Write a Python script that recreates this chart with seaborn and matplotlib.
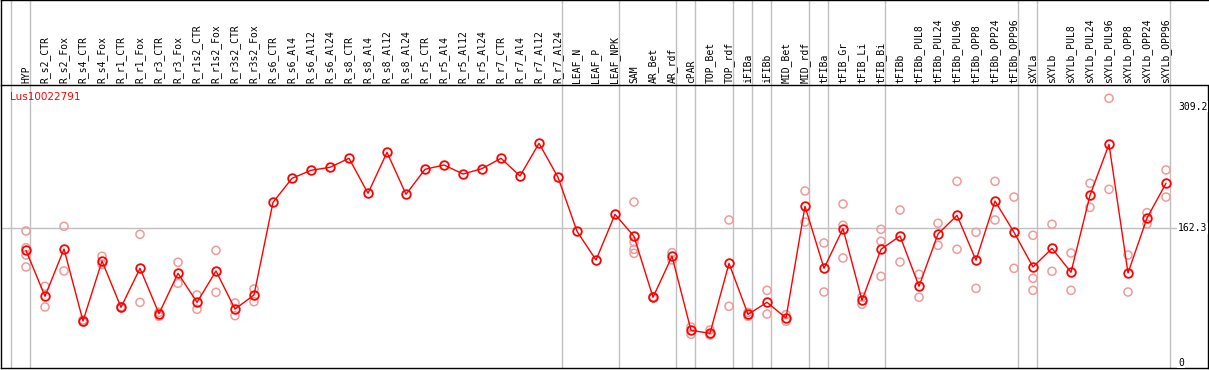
import numpy as np
import pandas as pd
import matplotlib
matplotlib.use("Agg")
import matplotlib.pyplot as plt
import seaborn as sns

# sample names across the top
labels = [
    "HYP",
    "R_s2_CTR", "R_s2_Fox", "R_s4_CTR", "R_s4_Fox", "R_r1_CTR", "R_r1_Fox",
    "R_r3_CTR", "R_r3_Fox", "R_r1s2_CTR", "R_r1s2_Fox", "R_r3s2_CTR", "R_r3s2_Fox",
    "R_s6_CTR", "R_s6_Al4", "R_s6_Al12", "R_s6_Al24",
    "R_s8_CTR", "R_s8_Al4", "R_s8_Al12", "R_s8_Al24",
    "R_r5_CTR", "R_r5_Al4", "R_r5_Al12", "R_r5_Al24",
    "R_r7_CTR", "R_r7_Al4", "R_r7_Al12", "R_r7_Al24",
    "LEAF_N", "LEAF_P", "LEAF_NPK",
    "SAM", "AR_Bet", "AR_rdf",
    "cPAR",
    "TOP_Bet", "TOP_rdf",
    "iFIBa",
    "iFIBb",
    "MID_Bet", "MID_rdf",
    "tFIBa",
    "tFIB_Gr", "tFIB_Li", "tFIB_Bi",
    "tFIBb", "tFIBb_PUL8", "tFIBb_PUL24", "tFIBb_PUL96", "tFIBb_OPP8", "tFIBb_OPP24", "tFIBb_OPP96",
    "sXYLa",
    "sXYLb", "sXYLb_PUL8", "sXYLb_PUL24", "sXYLb_PUL96", "sXYLb_OPP8", "sXYLb_OPP24", "sXYLb_OPP96",
]

# number of samples in each tissue group (gray separators between groups)
group_sizes = [1, 28, 3, 3, 1, 2, 1, 1, 2, 1, 3, 7, 1, 7]

# mean expression per sample
means = [
    135.5,
    80.1, 137.2, 50.3, 122.7, 66.8, 113.9, 59.1, 107.9, 72.8, 110.7, 64.7, 81.7,
    193.6, 222.6, 232.3, 235.9,
    246.8, 204.5, 254.0, 203.3,
    233.5, 238.7, 227.8, 234.3,
    246.8, 225.4, 264.9, 223.8,
    158.6, 123.9, 179.1,
    152.5, 78.9, 128.4,
    39.0,
    35.4, 119.9,
    58.3,
    72.8,
    53.9, 188.8,
    113.9,
    161.8, 75.3, 136.9,
    152.9, 92.2, 155.4, 177.9, 123.6, 195.2, 157.4,
    115.5,
    138.0, 109.1, 202.1, 263.7, 108.2, 174.7, 216.6,
]

# individual replicates per sample
replicates = [
    [159.0, 138.8, 130.0, 115.5],
    [92.2, 67.2], [164.6, 110.7], [51.5, 49.0], [128.4, 118.7], [67.5, 66.0], [155.0, 72.8],
    [60.8, 55.9], [121.2, 95.8], [81.7, 64.4], [135.6, 84.9], [72.0, 56.7], [88.9, 73.6],
    [], [], [], [],
    [], [], [], [],
    [], [], [], [],
    [], [], [], [],
    [], [], [],
    [194.0, 145.7, 136.9, 132.0], [79.5, 78.3], [132.8, 124.0],
    [43.0, 34.2],
    [39.4, 33.3], [172.3, 68.0],
    [60.8, 55.9],
    [87.3, 58.7],
    [57.9, 49.9], [207.3, 169.8],
    [144.5, 85.3],
    [191.6, 165.9, 126.4], [79.2, 70.4], [161.0, 146.5, 104.2],
    [184.3, 121.5], [106.7, 78.9], [168.3, 141.7], [219.0, 136.9], [157.4, 89.7], [219.0, 172.3], [200.0, 113.9],
    [153.8, 101.8, 87.3],
    [167.1, 110.3], [132.4, 87.3], [216.6, 187.6], [319.3, 209.3], [130.0, 85.3], [181.1, 167.4], [232.7, 200.0],
]

gene_id = "Lus10022791"
ref_lines = [309.2, 162.3, 0]

pos = np.arange(len(labels))
mean_df = pd.DataFrame({"pos": pos, "value": means})
rep_df = pd.DataFrame(
    [(i, v) for i, reps in enumerate(replicates) for v in reps], columns=["pos", "value"]
)

sns.set_style("white")
plt.rcParams["font.family"] = ["DejaVu Sans Mono", "DejaVu Sans"]

fig = plt.figure(figsize=(12.09, 3.70), dpi=100)
ax = fig.add_axes([1 / 1209, 2 / 370, 1207 / 1209, 282 / 370])
hax = fig.add_axes([1 / 1209, 285 / 370, 1207 / 1209, 85 / 370])

xlim = (-1.316, 62.21)
ax.set_xlim(*xlim)
ax.set_ylim(-6.5, 334.1)
hax.set_xlim(*xlim)
hax.set_ylim(0, 1)

# group separators, running through header and plot
ends = np.cumsum(group_sizes) - 1
for e in np.concatenate([[-1], ends]):
    for a in (ax, hax):
        a.axvline(e + 0.21, color="#c0c0c0", lw=1.0, zorder=0)

ax.axhline(162.3, color="#c0c0c0", lw=1.0, zorder=0)

# replicates
sns.scatterplot(data=rep_df, x="pos", y="value", ax=ax, marker="o",
                facecolor="none", edgecolor="#f09a9a", s=34, linewidth=1.1,
                zorder=2, legend=False)

# means
sns.lineplot(data=mean_df, x="pos", y="value", ax=ax, color="red", lw=1.0,
             marker="o", markersize=6.2, markerfacecolor="none",
             markeredgecolor="red", markeredgewidth=1.3, zorder=3)

# header sample labels
for i, lab in enumerate(labels):
    hax.text(i, 0.025, lab, rotation=90, ha="center", va="bottom",
             fontsize=7, color="black")

# value labels on the right
for v in ref_lines:
    ax.text(60.64, v, f"{v:g}" if v else "0", ha="left", va="center",
            fontsize=7, color="black",
            bbox=dict(facecolor="white", edgecolor="none", pad=0.5), zorder=4)

ax.text(0.0075, 0.961, gene_id, transform=ax.transAxes, ha="left",
        va="center", fontsize=7.5, color="red", family="DejaVu Sans")

for a in (ax, hax):
    a.set_xticks([])
    a.set_yticks([])
    a.set_xlabel("")
    a.set_ylabel("")
    for s in a.spines.values():
        s.set_color("black")
        s.set_linewidth(1.0)

ax.spines["top"].set_visible(False)
hax.spines["right"].set_visible(False)

fig.savefig("out.png", dpi=100)
